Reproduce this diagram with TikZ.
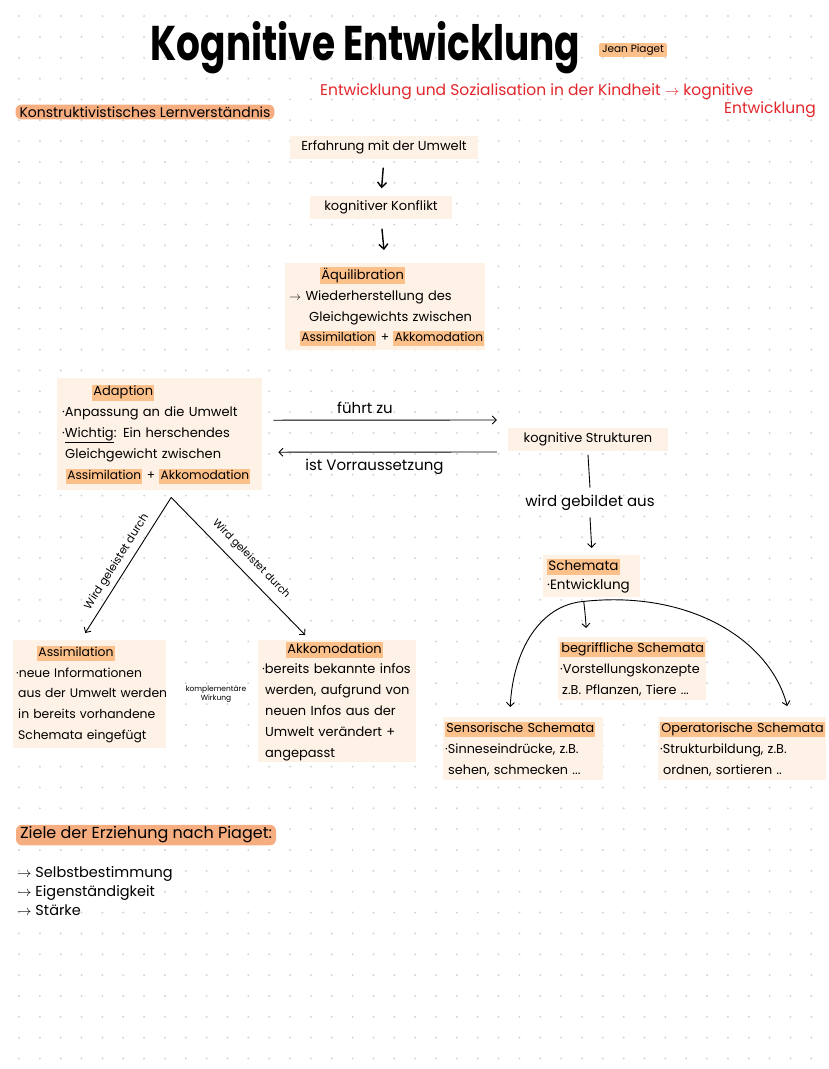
\documentclass[tikz,border=0pt]{standalone}
\usepackage{fontspec}
\setmainfont{Poppins}
\usetikzlibrary{arrows.meta}
\definecolor{boxc}{HTML}{FEF1E6}
\definecolor{hlc}{HTML}{FCC08A}
\definecolor{pillc}{HTML}{F6AE80}
\definecolor{redc}{HTML}{E3262B}
\definecolor{dotc}{HTML}{D4D4D4}
\newcommand\hlt[1]{{\setlength{\fboxsep}{1.2pt}\colorbox{hlc}{\vphantom{Ag}#1}}}
\newcommand\bodyfont{\fontsize{13}{20.8}\selectfont}
\newcommand\lastfont{\fontsize{12.2}{20.8}\selectfont}
\newcommand\schfont{\fontsize{12.8}{20.8}\selectfont}
\tikzset{
  box/.style={fill=boxc, anchor=north west, align=left, inner xsep=5pt, inner ysep=0pt, font=\bodyfont},
  sbox/.style={box, font=\schfont},
  cbox/.style={fill=boxc, align=center, inner sep=0pt, font=\bodyfont},
  pill/.style={fill=pillc, rounded corners=6pt, inner xsep=4pt, inner ysep=2pt, font=\fontsize{14}{16}\selectfont},
  lbl/.style={font=\fontsize{15}{17}\selectfont},
  arr/.style={-{Straight Barb[length=4pt,width=8pt]}, line width=0.9pt},
  farr/.style={-{Straight Barb[length=5pt,width=9pt]}, line width=1.4pt},
}
\begin{document}
\begin{tikzpicture}[x=1pt,y=-1pt]
\useasboundingbox (0,0) rectangle (828,1069);
\fill[white] (0,0) rectangle (828,1069);
\foreach \i in {0,...,39} {\foreach \j in {0,...,51} {\fill[dotc] ({19+20.85*\i},{16+20.85*\j}) circle (1.1pt);}}

% title
\node[anchor=base, font=\fontsize{37.5}{40}\bfseries, inner sep=0pt] (title) at (365.5,60) {\scalebox{1}[1.3]{Kognitive Entwicklung}};
\node[fill=hlc, rounded corners=2pt, inner xsep=3pt, inner ysep=1.5pt, font=\fontsize{10.5}{12}\selectfont] (jp) at (633,50) {Jean Piaget};
\node[anchor=north west, align=left, text=redc, inner sep=0pt, font=\fontsize{15.5}{18}\selectfont] (red) at (320,83) {Entwicklung und Sozialisation in der Kindheit $\rightarrow$ kognitive\\ \hspace*{404pt}Entwicklung};
\node[pill] (konst) at (145,112) {Konstruktivistisches Lernverständnis};

% flow
\node[cbox, minimum width=188, minimum height=23] (erf) at (384,147) {Erfahrung mit der Umwelt};
\node[cbox, minimum width=142, minimum height=23] (konf) at (381,207) {kognitiver Konflikt};
\node[box, text width=192, inner xsep=4pt, minimum height=87] (aequi) at (285,263) {\hspace*{31pt}\hlt{Äquilibration}\\ $\rightarrow$ Wiederherstellung des\\ \hspace*{20pt}Gleichgewichts zwischen\\ \mbox{\lastfont\hspace*{11pt}\hlt{Assimilation} + \hlt{Akkomodation}}};
\draw[farr, shorten <=9pt, shorten >=7pt] (erf.south) -- (konf.north);
\draw[farr, shorten <=10pt, shorten >=13pt] (konf.south) -- (aequi.north);

% adaption
\node[box, text width=195, minimum height=112] (adapt) at (57,378) {\hspace*{30pt}\hlt{Adaption}\\ ·Anpassung an die Umwelt\\ ·\underline{Wichtig}: Ein herschendes\\ \hspace*{3pt}Gleichgewicht zwischen\\ \mbox{\lastfont\hspace*{4pt}\hlt{Assimilation} + \hlt{Akkomodation}}};
\node[cbox, minimum width=160, minimum height=23] (ks) at (588,439) {kognitive Strukturen};
\draw[arr] ([shift={(11,-14)}]adapt.east) -- node[lbl, above=3pt, pos=0.41] (fz) {führt zu} ([shift={(-11,-19)}]ks.west);
\draw[arr] ([shift={(-11,13)}]ks.west) -- node[lbl, below=3pt, pos=0.56] (iv) {ist Vorraussetzung} ([shift={(16,18)}]adapt.east);

\node[lbl] (geb) at (590,503) {wird gebildet aus};
\node[sbox, text width=89, minimum height=42, inner xsep=4pt, font=\fontsize{13.5}{19}\selectfont] (schem) at (543,555) {\hlt{Schemata}\\ ·Entwicklung};
\draw[line width=0.9pt] ([yshift=-4pt]ks.south) -- ([yshift=4pt]geb.north);
\draw[arr] ([yshift=-3pt]geb.south) -- ([yshift=7pt]schem.north);

\node[sbox, text width=144, minimum height=63, inner xsep=2pt] (begr) at (558,637) {\hlt{begriffliche Schemata}\\ ·Vorstellungskonzepte\\ \hspace*{2pt}z.B. Pflanzen, Tiere ...};
\node[sbox, text width=156, minimum height=63, inner xsep=2pt] (sens) at (443,717) {\hlt{Sensorische Schemata}\\ ·Sinneseindrücke, z.B.\\ \hspace*{3pt}sehen, schmecken ...};
\node[sbox, text width=164, minimum height=63, inner xsep=2pt] (oper) at (658,717) {\hlt{Operatorische Schemata}\\ ·Strukturbildung, z.B.\\ \hspace*{3pt}ordnen, sortieren ..};
\coordinate (sst) at ([shift={(-8,4)}]schem.south);
\draw[arr] (sst) .. controls (585,612) .. ([shift={(-46,-9)}]begr.north);
\draw[arr] (sst) .. controls (540,605) and (513,650) .. ([shift={(-13,-10)}]sens.north);
\draw[arr] (sst) .. controls (690,590) and (770,640) .. ([shift={(45,-11)}]oper.north);

% assimilation / akkomodation
\node[box, text width=147, minimum height=108, inner xsep=3pt, font=\fontsize{12.4}{20.8}\selectfont] (assim) at (13,640) {\hspace*{21pt}\hlt{Assimilation}\\ ·neue Informationen\\ \mbox{\hspace*{2pt}aus der Umwelt werden}\\ \hspace*{2pt}in bereits vorhandene\\ \hspace*{2pt}Schemata eingefügt};
\node[box, text width=150, minimum height=122, inner xsep=4pt] (akko) at (258,640) {\hspace*{24pt}\hlt{Akkomodation}\\ ·bereits bekannte infos\\ \hspace*{3pt}werden, aufgrund von\\ \hspace*{3pt}neuen Infos aus der\\ \hspace*{3pt}Umwelt verändert +\\ \hspace*{3pt}angepasst};
\coordinate (apex) at ([shift={(11.5,7)}]adapt.south);
\draw[arr] (apex) -- ([shift={(-4.5,-7)}]assim.north);
\draw[arr] (apex) -- ([shift={(-32,-5)}]akko.north);
\node[font=\fontsize{11}{12}\selectfont, rotate=57.7, inner sep=0pt] (wl) at (117,562) {Wird geleistet durch};
\node[font=\fontsize{10.5}{12}\selectfont, rotate=-45.6, inner sep=0pt] (wr) at (251,559) {Wird geleistet durch};
\node[font=\fontsize{7.5}{9.5}\selectfont, align=center, inner sep=0pt] (komp) at (216,694) {komplementäre\\ Wirkung};

% goals
\node[pill, font=\fontsize{16}{18}\selectfont] (ziele) at (146,835) {Ziele der Erziehung nach Piaget:};
\node[anchor=north west, align=left, inner sep=0pt, font=\fontsize{14.5}{19}\selectfont] (goals) at (17,866) {$\rightarrow$ Selbstbestimmung\\ $\rightarrow$ Eigenständigkeit\\ $\rightarrow$ Stärke};
\end{tikzpicture}
\end{document}
